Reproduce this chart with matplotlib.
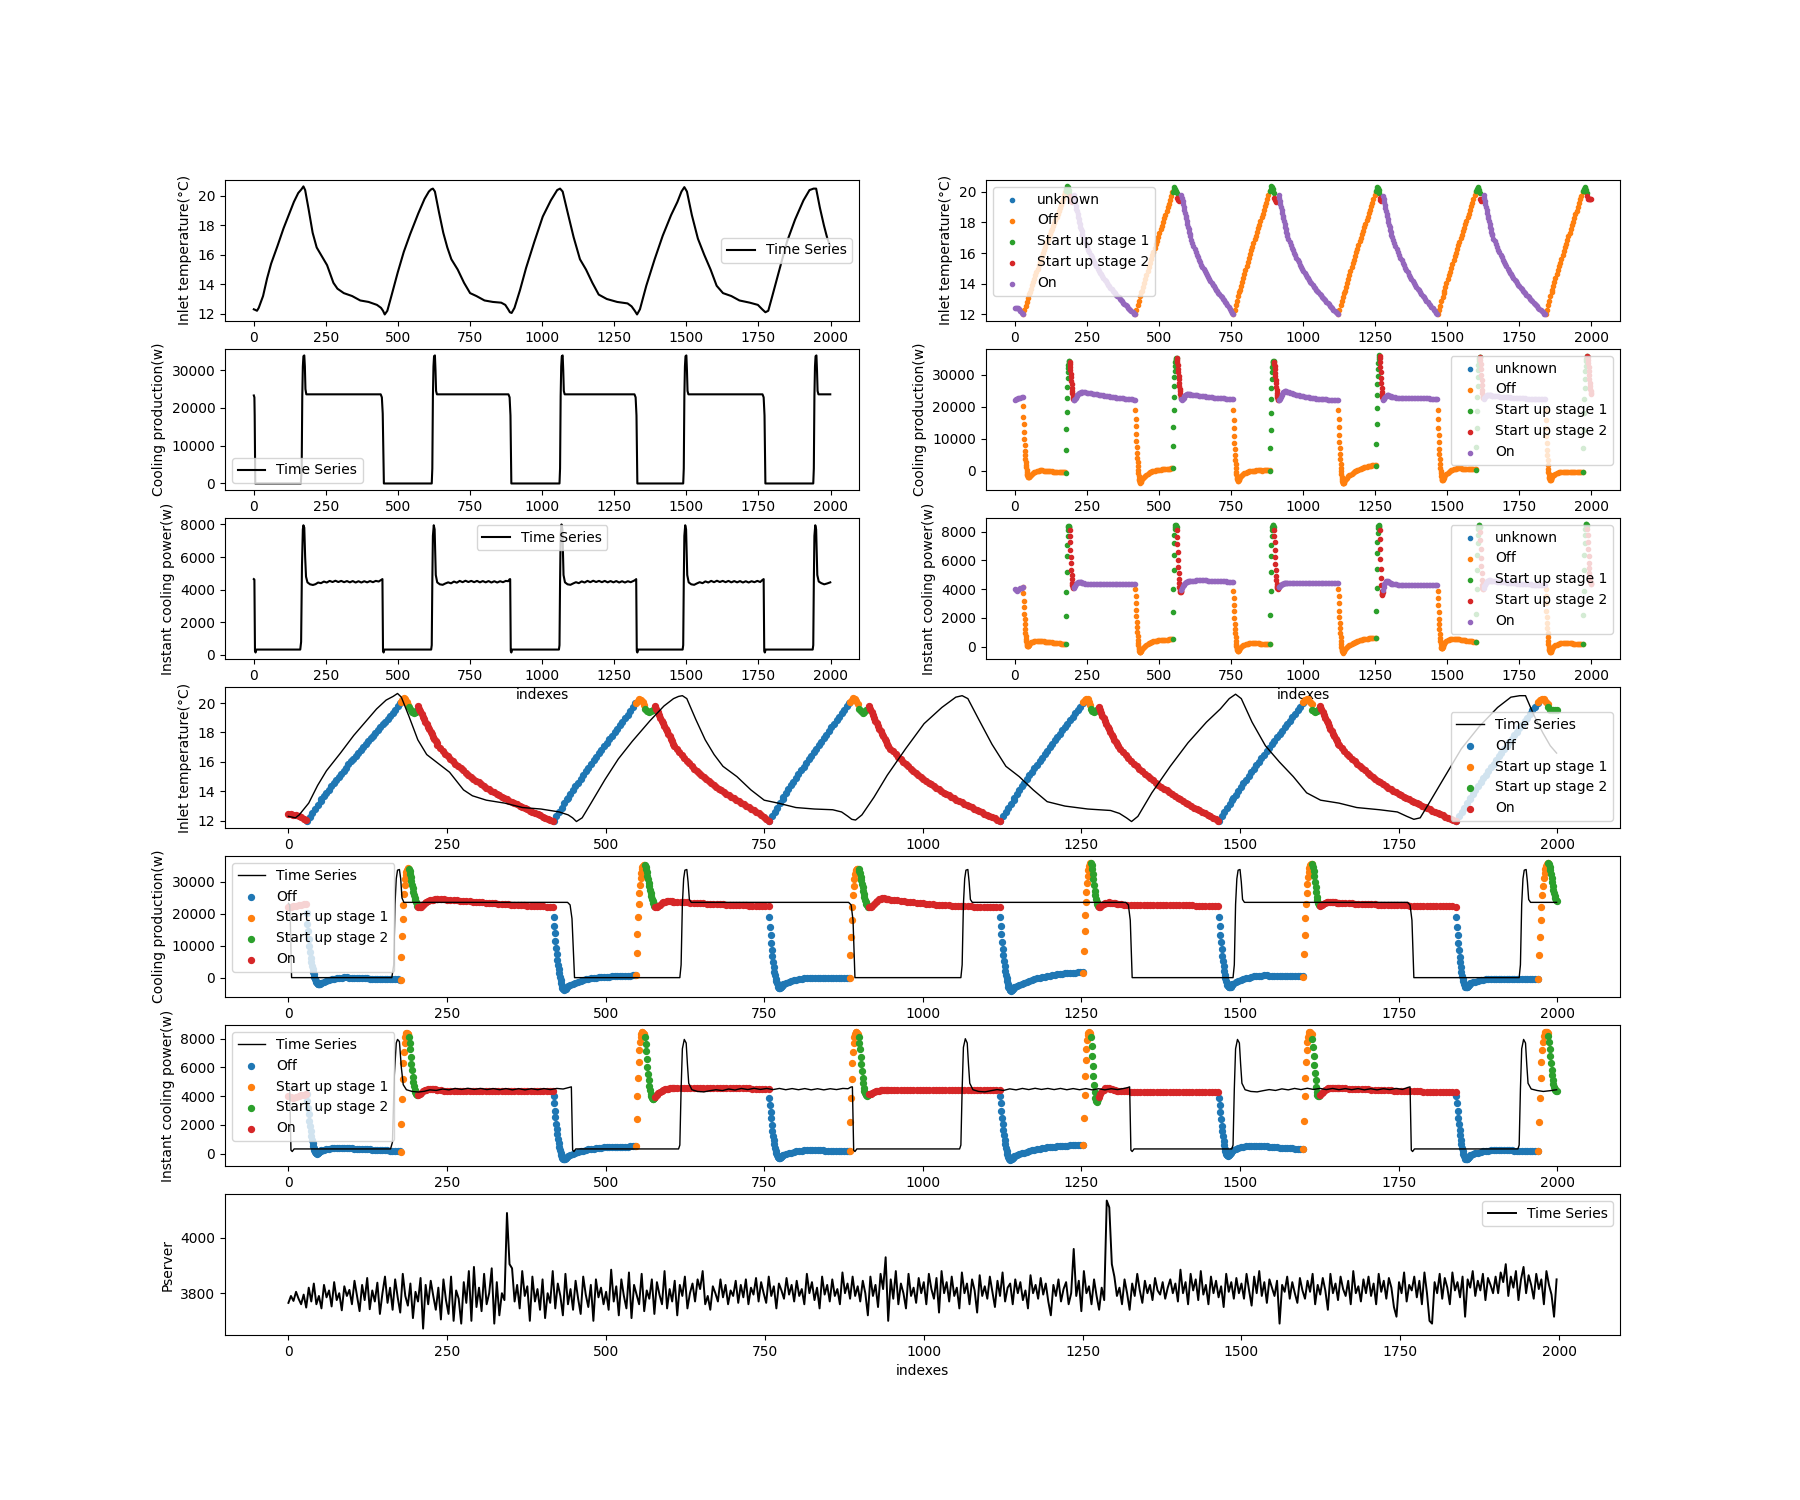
import numpy as np
import matplotlib
matplotlib.use('Agg')
import matplotlib.pyplot as plt

OFF, S1, S2, ON = 'Off', 'Start up stage 1', 'Start up stage 2', 'On'

inlet_pts = [(0, 12.3), (6, 12.25), (11, 12.2), (17, 12.4), (32, 13.2), (46, 14.4), (60, 15.4), (82, 16.6),
             (103, 17.8), (125, 18.9), (139, 19.6), (154, 20.2), (165, 20.45), (172, 20.65), (178, 20.4),
             (190, 19.1), (204, 17.5), (218, 16.5), (233, 16.0), (254, 15.3), (276, 14.1), (290, 13.7),
             (312, 13.4), (341, 13.2), (369, 12.9), (398, 12.8), (427, 12.6), (441, 12.4), (448, 12.2),
             (454, 11.95), (463, 12.2), (477, 13.2), (499, 14.8), (520, 16.2), (542, 17.4), (570, 18.8),
             (592, 19.8), (607, 20.3), (615, 20.45), (621, 20.5), (628, 20.3), (642, 18.9), (657, 17.5),
             (671, 16.5), (685, 15.7), (707, 15.0), (729, 14.1), (750, 13.4), (772, 13.2), (800, 12.9),
             (829, 12.8), (858, 12.75), (872, 12.6), (882, 12.3), (888, 12.1), (894, 12.05), (904, 12.4),
             (923, 13.6), (944, 15.1), (973, 16.9), (1002, 18.6), (1030, 19.7), (1052, 20.4), (1062, 20.5),
             (1071, 20.3), (1088, 18.9), (1109, 17.2), (1131, 15.7), (1152, 15.0), (1174, 14.1), (1196, 13.3),
             (1224, 13.0), (1260, 12.8), (1296, 12.7), (1310, 12.5), (1321, 12.2), (1329, 11.95), (1339, 12.3),
             (1361, 13.9), (1390, 15.7), (1418, 17.3), (1447, 18.7), (1469, 19.6), (1483, 20.3), (1493, 20.6),
             (1502, 20.3), (1519, 18.7), (1540, 17.1), (1562, 16.0), (1584, 15.0), (1605, 13.9), (1627, 13.4),
             (1656, 13.2), (1684, 12.9), (1720, 12.75), (1748, 12.6), (1763, 12.3), (1774, 12.1), (1784, 12.2),
             (1798, 13.2), (1820, 14.8), (1849, 16.9), (1877, 18.4), (1906, 19.7), (1927, 20.4), (1941, 20.5),
             (1950, 20.5), (1963, 19.2), (1977, 18.0), (1989, 17.1), (1999, 16.6)]

prod_pts = [(0, 23300), (2, 22800), (3, 18000), (5, 0), (163, 0), (166, 4000), (168, 23000), (170, 31000),
            (172, 33700), (175, 33900), (177, 31000), (179, 25000), (182, 23600), (440, 23600), (444, 22800),
            (447, 18500), (451, 0), (617, 0), (619, 4000), (621, 23000), (623, 31000), (625, 33700),
            (628, 33900), (630, 30000), (632, 24500), (635, 23600), (883, 23600), (887, 22800), (890, 18000),
            (893, 0), (1060, 0), (1062, 4000), (1064, 23000), (1066, 31000), (1068, 33700), (1071, 33900),
            (1073, 30000), (1075, 24500), (1078, 23600), (1320, 23600), (1324, 22800), (1327, 18000),
            (1330, 0), (1489, 0), (1491, 4000), (1493, 23000), (1495, 31000), (1497, 33700), (1500, 33900),
            (1502, 30000), (1504, 24500), (1507, 23600), (1764, 23600), (1768, 22800), (1771, 18000),
            (1774, 0), (1940, 0), (1942, 4000), (1944, 23000), (1946, 31000), (1948, 33700), (1951, 33900),
            (1953, 30000), (1955, 24500), (1958, 23600), (1999, 23600)]

power_pts = [(0, 4650), (2, 4620), (4, 250), (6, 150), (9, 330), (161, 330), (164, 800), (167, 5500),
             (170, 7700), (172, 7950), (175, 7800), (178, 6000), (181, 4800), (186, 4450), (195, 4330),
             (205, 4290), (214, 4340), (223, 4440), (233, 4400), (243, 4500), (253, 4440), (263, 4540),
             (273, 4470), (283, 4550), (293, 4470), (303, 4540), (313, 4460), (323, 4530), (333, 4450),
             (343, 4530), (353, 4440), (363, 4520), (373, 4440), (383, 4520), (393, 4450), (403, 4530),
             (413, 4460), (423, 4540), (433, 4500), (440, 4580), (446, 4650), (448, 250), (450, 150),
             (453, 330), (615, 330), (617, 600), (619, 4500), (621, 7300), (624, 7950), (627, 7700),
             (629, 6200), (631, 4900), (636, 4450), (645, 4330), (655, 4300), (664, 4380), (674, 4450),
             (684, 4390), (694, 4500), (704, 4430), (714, 4540), (724, 4460), (734, 4550), (744, 4470),
             (754, 4540), (764, 4460), (774, 4540), (784, 4450), (794, 4530), (804, 4450), (814, 4530),
             (824, 4440), (834, 4520), (844, 4440), (854, 4520), (864, 4460), (874, 4540), (882, 4520),
             (887, 4640), (889, 4650), (891, 250), (893, 150), (896, 330), (1058, 330), (1060, 600),
             (1062, 4500), (1064, 7400), (1067, 8000), (1070, 7700), (1072, 6200), (1074, 4900),
             (1079, 4450), (1088, 4330), (1098, 4300), (1107, 4380), (1117, 4460), (1127, 4400),
             (1137, 4510), (1147, 4440), (1157, 4540), (1167, 4460), (1177, 4550), (1187, 4470),
             (1197, 4540), (1207, 4460), (1217, 4540), (1227, 4450), (1237, 4530), (1247, 4450),
             (1257, 4530), (1267, 4440), (1277, 4520), (1287, 4440), (1297, 4520), (1307, 4460),
             (1317, 4540), (1323, 4600), (1326, 4650), (1328, 250), (1330, 150), (1333, 330), (1487, 330),
             (1489, 600), (1491, 4500), (1493, 7300), (1496, 7950), (1499, 7700), (1501, 6200),
             (1503, 4900), (1508, 4450), (1517, 4330), (1527, 4300), (1536, 4380), (1546, 4460),
             (1556, 4400), (1566, 4510), (1576, 4440), (1586, 4540), (1596, 4460), (1606, 4550),
             (1616, 4470), (1626, 4540), (1636, 4460), (1646, 4540), (1656, 4450), (1666, 4530),
             (1676, 4450), (1686, 4530), (1696, 4440), (1706, 4520), (1716, 4440), (1726, 4520),
             (1736, 4460), (1746, 4540), (1756, 4470), (1764, 4600), (1768, 4650), (1770, 250),
             (1772, 150), (1775, 330), (1938, 330), (1940, 600), (1942, 4500), (1944, 7300), (1947, 7950),
             (1950, 7700), (1952, 6200), (1954, 4900), (1959, 4500), (1968, 4400), (1978, 4330),
             (1988, 4380), (1994, 4420), (1999, 4450)]

# Pserver, one reading every 4 indexes
pserver = [
    3765, 3790, 3772, 3805, 3780, 3760, 3795, 3748, 3820, 3770, 3835, 3760, 3790, 3745, 3830, 3785, 3810, 3752, 3840, 3775, 3800, 3738, 3825, 3790, 3812,
    3760, 3845, 3790, 3735, 3830, 3775, 3855, 3742, 3810, 3770, 3838, 3725, 3800, 3860, 3765, 3820, 3740, 3850, 3785, 3730, 3870, 3790, 3755, 3835, 3710,
    3805, 3770, 3855, 3672, 3830, 3760, 3845, 3790, 3740, 3820, 3705, 3850, 3775, 3725, 3860, 3700, 3810, 3780, 3690, 3840, 3765, 3880, 3700, 3895, 3750,
    3820, 3735, 3870, 3760, 3800, 3890, 3690, 3840, 3720, 3800, 3775, 4090, 3905, 3890, 3770, 3830, 3745, 3880, 3790, 3825, 3700, 3860, 3770, 3815, 3740,
    3850, 3710, 3800, 3765, 3880, 3745, 3835, 3790, 3720, 3870, 3760, 3815, 3740, 3845, 3780, 3725, 3860, 3795, 3750, 3830, 3700, 3850, 3785, 3820, 3760,
    3805, 3740, 3885, 3770, 3825, 3720, 3850, 3790, 3745, 3875, 3710, 3830, 3795, 3760, 3870, 3735, 3810, 3780, 3850, 3725, 3840, 3795, 3760, 3880, 3745,
    3815, 3770, 3845, 3720, 3830, 3790, 3860, 3745, 3800, 3835, 3770, 3850, 3815, 3880, 3760, 3790, 3740, 3825, 3800, 3770, 3850, 3785, 3830, 3760, 3810,
    3790, 3845, 3765, 3830, 3785, 3850, 3760, 3820, 3795, 3855, 3770, 3840, 3800, 3765, 3860, 3790, 3825, 3745, 3835, 3810, 3780, 3855, 3795, 3830, 3770,
    3845, 3790, 3815, 3760, 3870, 3800, 3840, 3775, 3820, 3745, 3860, 3795, 3830, 3770, 3850, 3790, 3815, 3760, 3875, 3800, 3835, 3780, 3860, 3790, 3825,
    3770, 3845, 3800, 3720, 3860, 3790, 3830, 3750, 3870, 3815, 3930, 3700, 3850, 3780, 3880, 3760, 3835, 3800, 3745, 3870, 3790, 3820, 3765, 3855, 3800,
    3840, 3760, 3870, 3815, 3780, 3855, 3730, 3880, 3800, 3840, 3770, 3860, 3790, 3820, 3745, 3875, 3800, 3835, 3760, 3850, 3810, 3730, 3865, 3790, 3825,
    3780, 3860, 3805, 3750, 3845, 3790, 3875, 3770, 3820, 3835, 3760, 3850, 3800, 3840, 3775, 3810, 3745, 3865, 3800, 3830, 3780, 3855, 3795, 3835, 3770,
    3720, 3830, 3790, 3850, 3770, 3815, 3840, 3760, 3800, 3960, 3790, 3845, 3735, 3880, 3800, 3825, 3760, 3850, 3790, 3740, 3820, 3775, 4135, 4110, 3905,
    3860, 3790, 3820, 3760, 3850, 3800, 3740, 3835, 3790, 3870, 3810, 3765, 3845, 3800, 3830, 3775, 3855, 3810, 3795, 3840, 3780, 3820, 3850, 3800, 3835,
    3770, 3885, 3800, 3840, 3760, 3870, 3810, 3850, 3775, 3880, 3795, 3830, 3760, 3860, 3800, 3845, 3785, 3825, 3750, 3870, 3805, 3840, 3780, 3855, 3800,
    3835, 3780, 3870, 3810, 3755, 3860, 3800, 3880, 3790, 3840, 3765, 3850, 3820, 3790, 3845, 3690, 3830, 3805, 3860, 3780, 3840, 3800, 3765, 3855, 3810,
    3780, 3845, 3805, 3870, 3760, 3830, 3795, 3855, 3810, 3740, 3870, 3800, 3835, 3775, 3860, 3815, 3790, 3845, 3760, 3880, 3800, 3825, 3770, 3850, 3800,
    3860, 3790, 3835, 3760, 3870, 3805, 3845, 3780, 3855, 3820, 3750, 3715, 3840, 3800, 3875, 3770, 3830, 3810, 3860, 3785, 3845, 3760, 3875, 3800, 3700,
    3690, 3840, 3800, 3870, 3780, 3855, 3820, 3760, 3875, 3810, 3840, 3785, 3860, 3715, 3850, 3820, 3880, 3790, 3845, 3810, 3870, 3775, 3855, 3830, 3800,
    3860, 3800, 3875, 3840, 3905, 3790, 3860, 3820, 3880, 3775, 3850, 3895, 3800, 3865, 3830, 3780, 3870, 3815, 3850, 3760, 3880, 3830, 3795, 3715, 3850]

# simulated chiller: first index of each phase and its state
sim_start = [0, 29, 52, 177, 190, 204, 235, 418, 440, 548, 562, 578, 608, 758, 780, 885, 899, 915, 945,
             1122, 1144, 1253, 1265, 1277, 1307, 1467, 1489, 1600, 1614, 1626, 1656, 1841, 1863, 1970, 1986]
sim_state = [ON, OFF, OFF, S1, S2, ON, ON, OFF, OFF, S1, S2, ON, ON, OFF, OFF, S1, S2, ON, ON,
             OFF, OFF, S1, S2, ON, ON, OFF, OFF, S1, S2, ON, ON, OFF, OFF, S1, S2]

# simulated values, one list per phase (spread evenly over the phase)
sim_inlet = [
    [12.45, 12.44, 12.42, 12.4, 12.35, 12.25, 12.12, 12.02],
    [12.0, 12.28, 12.55, 12.82, 13.1, 13.35],
    [13.45, 13.68, 13.9, 14.12, 14.34, 14.56, 14.78, 14.99, 15.2, 15.41, 15.62, 15.83, 16.03, 16.23, 16.43, 16.63, 16.83,
     17.03, 17.22, 17.41, 17.6, 17.79, 17.98, 18.17, 18.36, 18.55, 18.74, 18.93, 19.12, 19.32, 19.55, 19.8, 20.0],
    [20.05, 20.2, 20.35, 20.3, 20.1, 19.9],
    [19.7, 19.5, 19.4, 19.35, 19.4, 19.5],
    [19.8, 19.62, 19.44, 19.26, 19.08, 18.9, 18.72, 18.55, 18.38, 18.21, 18.04, 17.88, 17.72, 17.56, 17.41, 17.26],
    [17.15, 16.95, 16.76, 16.57, 16.39, 16.21, 16.04, 15.88, 15.72, 15.57, 15.42, 15.27, 15.13, 14.99, 14.86, 14.73,
     14.61, 14.49, 14.37, 14.26, 14.15, 14.04, 13.94, 13.84, 13.74, 13.64, 13.55, 13.46, 13.37, 13.28, 13.2, 13.11,
     13.03, 12.94, 12.86, 12.77, 12.69, 12.6, 12.52, 12.44, 12.36, 12.28, 12.2, 12.13, 12.06, 12.0],
    [12.0, 12.3, 12.6, 12.9, 13.2, 13.45],
    [13.55, 13.82, 14.08, 14.34, 14.6, 14.85, 15.1, 15.35, 15.6, 15.85, 16.1, 16.34, 16.58, 16.82, 17.06, 17.3, 17.54,
     17.78, 18.02, 18.26, 18.5, 18.74, 18.98, 19.22, 19.46, 19.72, 20.0],
    [20.0, 20.15, 20.3, 20.2, 20.05, 19.9],
    [19.6, 19.45, 19.4, 19.45, 19.5, 19.55],
    [19.8, 19.6, 19.4, 19.2, 19.0, 18.8, 18.62, 18.44, 18.26, 18.08, 17.9, 17.73, 17.56, 17.39, 17.22],
    [17.1, 16.88, 16.66, 16.45, 16.26, 16.07, 15.9, 15.72, 15.55, 15.4, 15.24, 15.1, 14.95, 14.82, 14.68, 14.55, 14.42,
     14.3, 14.18, 14.06, 13.95, 13.84, 13.73, 13.62, 13.52, 13.42, 13.32, 13.22, 13.12, 13.02, 12.92, 12.82, 12.72,
     12.61, 12.5, 12.38, 12.25, 12.12, 12.0],
    [12.0, 12.3, 12.6, 12.9, 13.2, 13.48],
    [13.6, 13.87, 14.14, 14.4, 14.66, 14.92, 15.18, 15.43, 15.68, 15.93, 16.18, 16.42, 16.66, 16.9, 17.14, 17.38, 17.62,
     17.86, 18.1, 18.34, 18.58, 18.82, 19.06, 19.3, 19.54, 19.78, 20.02],
    [20.05, 20.2, 20.35, 20.3, 20.15, 19.95],
    [19.6, 19.45, 19.35, 19.4, 19.5, 19.6],
    [19.8, 19.6, 19.4, 19.2, 19.0, 18.81, 18.62, 18.44, 18.26, 18.08, 17.9, 17.73, 17.56, 17.39, 17.22],
    [17.1, 16.9, 16.71, 16.53, 16.35, 16.18, 16.01, 15.85, 15.69, 15.54, 15.39, 15.25, 15.11, 14.97, 14.84, 14.71,
     14.59, 14.47, 14.35, 14.24, 14.13, 14.02, 13.92, 13.82, 13.72, 13.62, 13.53, 13.44, 13.35, 13.26, 13.17, 13.08,
     13.0, 12.91, 12.82, 12.74, 12.65, 12.57, 12.48, 12.4, 12.32, 12.24, 12.16, 12.08, 12.0],
    [12.0, 12.3, 12.6, 12.88, 13.16, 13.42],
    [13.55, 13.81, 14.07, 14.33, 14.58, 14.83, 15.08, 15.33, 15.57, 15.81, 16.05, 16.29, 16.53, 16.77, 17.0, 17.23,
     17.46, 17.69, 17.92, 18.15, 18.38, 18.61, 18.84, 19.07, 19.3, 19.53, 19.76, 20.0],
    [20.05, 20.2, 20.3, 20.25, 20.1, 19.9],
    [19.6, 19.45, 19.4, 19.45, 19.5, 19.6],
    [19.75, 19.55, 19.35, 19.15, 18.95, 18.76, 18.57, 18.39, 18.21, 18.03, 17.86, 17.69, 17.52, 17.36, 17.2],
    [17.08, 16.86, 16.65, 16.45, 16.25, 16.06, 15.88, 15.7, 15.53, 15.36, 15.2, 15.04, 14.89, 14.74, 14.6, 14.46,
     14.32, 14.19, 14.06, 13.93, 13.81, 13.69, 13.57, 13.45, 13.34, 13.23, 13.12, 13.01, 12.9, 12.8, 12.7, 12.6,
     12.5, 12.4, 12.3, 12.2, 12.1, 12.0],
    [12.0, 12.3, 12.58, 12.86, 13.14, 13.4],
    [13.52, 13.78, 14.04, 14.3, 14.55, 14.8, 15.05, 15.3, 15.54, 15.78, 16.02, 16.26, 16.5, 16.74, 16.97, 17.2, 17.43,
     17.66, 17.89, 18.12, 18.35, 18.58, 18.81, 19.04, 19.28, 19.52, 19.76, 20.0],
    [20.05, 20.2, 20.3, 20.25, 20.1, 19.95],
    [19.55, 19.45, 19.4, 19.45, 19.55, 19.6],
    [19.8, 19.6, 19.4, 19.2, 19.0, 18.81, 18.62, 18.44, 18.26, 18.08, 17.9, 17.73, 17.56, 17.39, 17.22],
    [17.15, 16.95, 16.76, 16.57, 16.39, 16.21, 16.04, 15.88, 15.72, 15.57, 15.42, 15.27, 15.13, 14.99, 14.86, 14.73,
     14.61, 14.49, 14.37, 14.26, 14.15, 14.04, 13.94, 13.84, 13.74, 13.64, 13.55, 13.46, 13.37, 13.28, 13.2, 13.11,
     13.03, 12.94, 12.86, 12.77, 12.69, 12.6, 12.52, 12.44, 12.36, 12.28, 12.2, 12.13, 12.06, 12.0],
    [12.0, 12.3, 12.6, 12.9, 13.18, 13.45],
    [13.57, 13.84, 14.1, 14.36, 14.62, 14.88, 15.13, 15.38, 15.63, 15.88, 16.13, 16.37, 16.61, 16.85, 17.09, 17.33,
     17.57, 17.81, 18.05, 18.29, 18.53, 18.77, 19.01, 19.25, 19.5, 19.75, 20.0],
    [20.05, 20.2, 20.3, 20.25, 20.1, 19.95],
    [19.7, 19.55, 19.5, 19.5, 19.5, 19.55]]

sim_prod = [
    [22200, 22300, 22450, 22600, 22750, 22900, 23050, 23200],
    [20200, 16900, 14500, 12200, 9800, 8100, 6200, 4900, 3600, 2600, 1800, 1000, 200, -500, -1100, -1500, -1800,
     -2000, -2100, -2050, -1950, -1850, -1750],
    [-1650, -1380, -1100, -820, -570, -360, -190, -70, 10, 50, 60, 40, 0, -50, -100, -140, -180, -220, -250, -280,
     -310, -340, -370, -390, -420, -440, -470, -490, -520, -540, -570, -600],
    [-700, 6600, 13000, 18400, 22700, 26200, 29000, 30800, 32300, 33200, 33800, 34200, 34400],
    [34100, 33300, 32400, 31400, 30300, 29200, 28100, 27000, 26000, 25100, 24300, 23600, 23000, 22500],
    [22100, 22000, 22300, 22800, 23300, 23700, 24000, 24200, 24350, 24450, 24500, 24500],
    [24550, 24550, 24500, 24440, 24370, 24290, 24210, 24130, 24050, 23970, 23890, 23810, 23730, 23650, 23570, 23490,
     23410, 23330, 23250, 23180, 23110, 23040, 22970, 22900, 22840, 22780, 22720, 22660, 22600, 22550, 22500, 22450,
     22400, 22350, 22300, 22250, 22200],
    [19000, 16300, 13900, 11600, 9400, 7400, 5600, 4000, 2600, 1300, 200, -800, -1700, -2500, -3100, -3500, -3700,
     -3750, -3650, -3450, -3200, -2950],
    [-2700, -2300, -1900, -1550, -1250, -980, -750, -560, -400, -260, -140, -40, 50, 130, 200, 260, 320, 370, 420,
     460, 500, 540, 580, 610, 640, 670, 700],
    [700, 7800, 13600, 19000, 23200, 26500, 29200, 31300, 32900, 34000, 34700, 35100, 35300, 35400],
    [35300, 34800, 34000, 33000, 31900, 30800, 29700, 28600, 27500, 26500, 25600, 24800, 24100, 23500, 23000, 22600],
    [22300, 22200, 22500, 22900, 23300, 23600, 23800, 23900, 23950, 23950, 23900, 23850],
    [23800, 23750, 23700, 23650, 23600, 23540, 23480, 23420, 23360, 23300, 23240, 23180, 23120, 23060, 23000, 22950,
     22900, 22850, 22800, 22760, 22720, 22680, 22640, 22600, 22560, 22530, 22500, 22470, 22440, 22420],
    [19000, 16000, 13300, 10900, 8700, 6700, 4900, 3300, 1900, 700, -300, -1100, -1800, -2400, -2800, -3100, -3200,
     -3150, -3000, -2800, -2550, -2300],
    [-2050, -1750, -1450, -1150, -880, -650, -460, -310, -200, -120, -60, -20, 0, 10, 20, 20, 25, 20, 20, 15, 20, 20,
     25, 20, 20, 20],
    [0, 7200, 12700, 18000, 22300, 25900, 28800, 30900, 32400, 33400, 33900, 34100, 34200, 34200],
    [34000, 33500, 32700, 31700, 30600, 29500, 28400, 27300, 26300, 25300, 24400, 23700, 23100, 22700, 22400, 22200],
    [22100, 22000, 22400, 23000, 23600, 24100, 24500, 24750, 24850, 24850, 24800, 24700],
    [24600, 24480, 24350, 24220, 24090, 23960, 23840, 23720, 23600, 23490, 23380, 23280, 23180, 23090, 23000, 22920,
     22840, 22770, 22700, 22640, 22580, 22530, 22480, 22440, 22400, 22360, 22330, 22300, 22270, 22250, 22230, 22210,
     22200, 22190, 22180, 22170],
    [19000, 16200, 13600, 11200, 9000, 7000, 5200, 3600, 2200, 900, -200, -1200, -2100, -2800, -3400, -3800, -4000,
     -4050, -3950, -3750, -3500, -3200],
    [-2900, -2550, -2200, -1860, -1540, -1240, -960, -700, -460, -240, -40, 150, 320, 480, 630, 770, 900, 1020, 1130,
     1230, 1320, 1400, 1470, 1530, 1590, 1640, 1690, 1730],
    [1500, 8400, 14500, 19500, 23600, 27000, 29800, 32000, 33700, 34900, 35700, 36100],
    [36000, 35200, 34000, 32500, 30800, 29000, 27300, 25800, 24600, 23700, 23000, 22500],
    [22200, 22300, 22700, 23100, 23400, 23550, 23600, 23550, 23450, 23350, 23250, 23150],
    [23050, 22980, 22920, 22870, 22830, 22800, 22780, 22770, 22760, 22750, 22740, 22730, 22720, 22710, 22700, 22700,
     22690, 22680, 22670, 22660, 22650, 22640, 22630, 22620, 22610, 22600, 22590, 22580, 22570, 22560, 22550, 22540],
    [19000, 16100, 13500, 11100, 8900, 6900, 5100, 3500, 2100, 900, -100, -900, -1600, -2200, -2600, -2900, -3000,
     -2950, -2800, -2600, -2350, -2100],
    [-1850, -1500, -1150, -800, -480, -200, 40, 240, 400, 520, 600, 650, 670, 670, 660, 640, 620, 600, 580, 560, 540,
     520, 500, 480, 460, 440, 420, 400],
    [300, 7500, 13500, 18800, 23100, 26600, 29400, 31600, 33200, 34300, 35000, 35400, 35600, 35700],
    [35500, 34600, 33300, 31800, 30100, 28400, 26800, 25400, 24300, 23500, 23000, 22700],
    [22500, 22700, 23100, 23400, 23600, 23700, 23750, 23700, 23650, 23600, 23550, 23500],
    [23450, 23400, 23350, 23300, 23250, 23200, 23160, 23120, 23080, 23040, 23000, 22960, 22920, 22880, 22850, 22820,
     22790, 22760, 22730, 22700, 22670, 22640, 22610, 22580, 22550, 22520, 22500, 22480, 22460, 22440, 22420, 22400,
     22380, 22360, 22340, 22320, 22300],
    [19000, 16000, 13300, 10800, 8600, 6600, 4800, 3200, 1800, 600, -400, -1200, -1900, -2400, -2800, -3000, -3050,
     -2950, -2750, -2500, -2250, -2000],
    [-1750, -1500, -1250, -1020, -820, -660, -540, -460, -410, -390, -380, -380, -390, -400, -410, -420, -430, -440,
     -450, -460, -470, -480, -490, -500, -510, -520, -530],
    [-500, 7000, 12800, 18000, 22300, 25900, 28800, 31100, 32900, 34200, 35100, 35600, 35800],
    [36000, 35500, 34700, 33700, 32500, 31200, 29900, 28700, 27600, 26600, 25700, 25000, 24400, 24000]]

sim_power = [
    [4000, 3950, 3900, 3950, 4000, 4050, 4100, 4150],
    [4150, 3700, 3200, 2750, 2300, 1900, 1550, 1250, 980, 740, 540, 380, 250, 150, 80, 30, 10, 20, 50, 90, 130, 170, 210],
    [250, 290, 320, 350, 370, 385, 395, 400, 400, 395, 385, 375, 365, 355, 345, 335, 325, 315, 305, 295, 285, 275,
     265, 255, 245, 235, 225, 215, 205, 195, 180, 170],
    [150, 2100, 3800, 5200, 6300, 7100, 7700, 8100, 8300, 8400, 8400, 8350, 8300],
    [8100, 7700, 7250, 6750, 6250, 5800, 5350, 5000, 4700, 4450, 4280, 4180, 4120, 4100],
    [4080, 4150, 4250, 4340, 4410, 4460, 4490, 4500, 4500, 4490, 4470, 4450],
    [4430, 4410, 4390, 4380, 4370, 4360, 4355, 4350, 4350, 4345, 4345, 4340, 4340, 4345, 4340, 4340, 4335, 4340,
     4340, 4345, 4340, 4340, 4335, 4340, 4340, 4345, 4340, 4340, 4335, 4340, 4340, 4345, 4340, 4340, 4335, 4340, 4340],
    [4000, 3500, 3000, 2550, 2100, 1700, 1350, 1020, 730, 480, 260, 80, -80, -200, -290, -350, -380, -390, -370,
     -330, -280, -220],
    [-160, -90, -20, 50, 110, 170, 220, 260, 300, 330, 360, 385, 405, 420, 435, 445, 455, 465, 470, 475, 480, 485,
     490, 495, 500, 500, 505],
    [500, 2400, 4000, 5300, 6400, 7200, 7800, 8150, 8350, 8450, 8450, 8400, 8350, 8300],
    [8100, 7650, 7150, 6600, 6050, 5550, 5100, 4700, 4400, 4150, 3980, 3870, 3820, 3820, 3850, 3900],
    [3950, 4080, 4200, 4300, 4380, 4440, 4480, 4510, 4530, 4540, 4550, 4560],
    [4570, 4580, 4590, 4590, 4600, 4600, 4600, 4600, 4600, 4600, 4600, 4600, 4595, 4590, 4585, 4580, 4575, 4570,
     4565, 4560, 4555, 4550, 4545, 4540, 4535, 4530, 4525, 4520, 4515, 4510],
    [3900, 3400, 2900, 2450, 2000, 1600, 1250, 930, 650, 400, 190, 20, -110, -200, -260, -290, -300, -290, -260,
     -220, -170, -120],
    [-70, -20, 30, 80, 120, 160, 190, 210, 225, 235, 240, 240, 240, 235, 230, 225, 220, 215, 210, 210, 205, 205, 200,
     200, 200, 200],
    [200, 2200, 3900, 5200, 6300, 7100, 7700, 8100, 8350, 8450, 8450, 8400, 8350, 8300],
    [8100, 7700, 7250, 6750, 6250, 5750, 5300, 4900, 4600, 4380, 4220, 4120, 4060, 4040, 4050, 4080],
    [4120, 4180, 4240, 4290, 4330, 4360, 4380, 4400, 4410, 4420, 4430, 4430],
    [4430, 4435, 4440, 4440, 4445, 4440, 4440, 4445, 4440, 4440, 4445, 4440, 4440, 4445, 4440, 4440, 4445, 4440,
     4440, 4445, 4440, 4440, 4445, 4440, 4440, 4445, 4440, 4440, 4445, 4440, 4440, 4445, 4440, 4440, 4445, 4440],
    [4000, 3500, 3000, 2500, 2050, 1650, 1280, 950, 660, 400, 180, 0, -150, -260, -340, -390, -410, -400, -370,
     -330, -280, -220],
    [-160, -100, -40, 20, 80, 140, 190, 240, 280, 320, 355, 385, 410, 435, 455, 475, 495, 510, 525, 540, 555, 565,
     575, 585, 595, 605, 610, 620],
    [600, 2500, 4100, 5400, 6500, 7300, 7900, 8250, 8400, 8450, 8400, 8350],
    [8100, 7500, 6800, 6100, 5400, 4800, 4300, 3900, 3650, 3580, 3650, 3800],
    [3950, 4150, 4330, 4460, 4540, 4570, 4560, 4530, 4490, 4450, 4420, 4390],
    [4370, 4350, 4340, 4330, 4320, 4315, 4310, 4310, 4305, 4300, 4300, 4305, 4300, 4300, 4295, 4300, 4300, 4305,
     4300, 4300, 4295, 4300, 4300, 4305, 4300, 4300, 4295, 4300, 4300, 4305, 4300, 4300],
    [3900, 3400, 2900, 2400, 1950, 1550, 1200, 880, 600, 360, 160, 0, -80, -120, -130, -110, -70, -20, 40, 100, 160, 220],
    [280, 340, 390, 440, 480, 510, 530, 545, 550, 550, 545, 535, 520, 505, 490, 475, 460, 445, 430, 415, 400, 390,
     380, 370, 360, 355, 350, 345],
    [350, 2300, 4000, 5300, 6400, 7200, 7800, 8150, 8350, 8450, 8450, 8400, 8350, 8300],
    [8000, 7400, 6800, 6200, 5600, 5100, 4650, 4300, 4100, 4000, 4000, 4050],
    [4100, 4200, 4300, 4400, 4480, 4540, 4580, 4600, 4600, 4590, 4580, 4570],
    [4560, 4550, 4540, 4530, 4520, 4510, 4500, 4490, 4480, 4470, 4460, 4450, 4440, 4430, 4420, 4410, 4400, 4390,
     4380, 4370, 4360, 4350, 4345, 4340, 4335, 4330, 4325, 4320, 4315, 4310, 4305, 4300, 4300, 4295, 4300, 4300, 4295],
    [4000, 3500, 3000, 2500, 2050, 1650, 1280, 950, 660, 400, 180, 0, -150, -260, -340, -380, -390, -370, -330,
     -280, -220, -160],
    [-100, -40, 20, 80, 130, 170, 200, 220, 235, 245, 250, 250, 245, 240, 235, 230, 225, 220, 215, 210, 205, 200,
     200, 200, 200, 200, 200],
    [200, 2200, 3900, 5300, 6400, 7200, 7800, 8200, 8400, 8500, 8500, 8450, 8400],
    [8200, 7800, 7300, 6800, 6300, 5850, 5450, 5100, 4850, 4650, 4500, 4420, 4380, 4360]]


def sim_points(series):
    # spread each phase's values evenly between its first and last index
    xs, ys, st = [], [], []
    for k, vals in enumerate(series):
        a = sim_start[k]
        b = sim_start[k + 1] - 1 if k + 1 < len(sim_start) else 1999
        xs.append(np.linspace(a, b, len(vals)))
        ys.append(np.asarray(vals, dtype=float))
        st += [sim_state[k]] * len(vals)
    return np.concatenate(xs), np.concatenate(ys), np.array(st)


inlet_x, inlet_y = np.array(inlet_pts).T
prod_x, prod_y = np.array(prod_pts).T
power_x, power_y = np.array(power_pts).T
pserver_x = np.arange(len(pserver)) * 4

ylabels = ['Inlet temperature(°C)', 'Cooling production(w)', 'Instant cooling power(w)']
measured = [(inlet_x, inlet_y), (prod_x, prod_y), (power_x, power_y)]
simulated = [sim_inlet, sim_prod, sim_power]

fig = plt.figure(figsize=(18, 15))

# left column: measured time series
left_loc = ['center right', 'lower left', 'upper center']
for i in range(3):
    ax = plt.subplot(7, 2, 2 * i + 1)
    ax.plot(measured[i][0], measured[i][1], color='k', label='Time Series')
    ax.set_ylabel(ylabels[i])
    ax.legend(loc=left_loc[i])
    if i == 2:
        ax.set_xlabel('indexes')

# right column: simulated values coloured by state
right_labels = ['unknown', OFF, S1, S2, ON]
right_colors = ['tab:blue', 'tab:orange', 'tab:green', 'tab:red', 'tab:purple']
right_loc = ['upper left', 'upper right', 'upper right']
for i in range(3):
    ax = plt.subplot(7, 2, 2 * i + 2)
    x, y, st = sim_points(simulated[i])
    for lab, col in zip(right_labels, right_colors):
        m = st == lab
        ax.scatter(x[m], y[m], s=9, color=col, label=lab)
    ax.set_ylabel(ylabels[i])
    ax.legend(loc=right_loc[i])
    if i == 2:
        ax.set_xlabel('indexes')

# full width: both together
low_labels = [OFF, S1, S2, ON]
low_colors = ['tab:blue', 'tab:orange', 'tab:green', 'tab:red']
low_loc = ['lower right', 'upper left', 'upper left']
for i in range(3):
    ax = plt.subplot(7, 1, 4 + i)
    ax.set_facecolor('none')
    ax.plot(measured[i][0], measured[i][1], color='k', lw=1, label='Time Series')
    x, y, st = sim_points(simulated[i])
    for lab, col in zip(low_labels, low_colors):
        m = st == lab
        ax.scatter(x[m], y[m], s=18, color=col, label=lab)
    ax.set_ylabel(ylabels[i])
    ax.legend(loc=low_loc[i])

ax = plt.subplot(7, 1, 7)
ax.plot(pserver_x, pserver, color='k', lw=1.4, label='Time Series')
ax.set_ylabel('Pserver')
ax.set_xlabel('indexes')
ax.legend(loc='upper right')

plt.savefig('out.png', dpi=100)
